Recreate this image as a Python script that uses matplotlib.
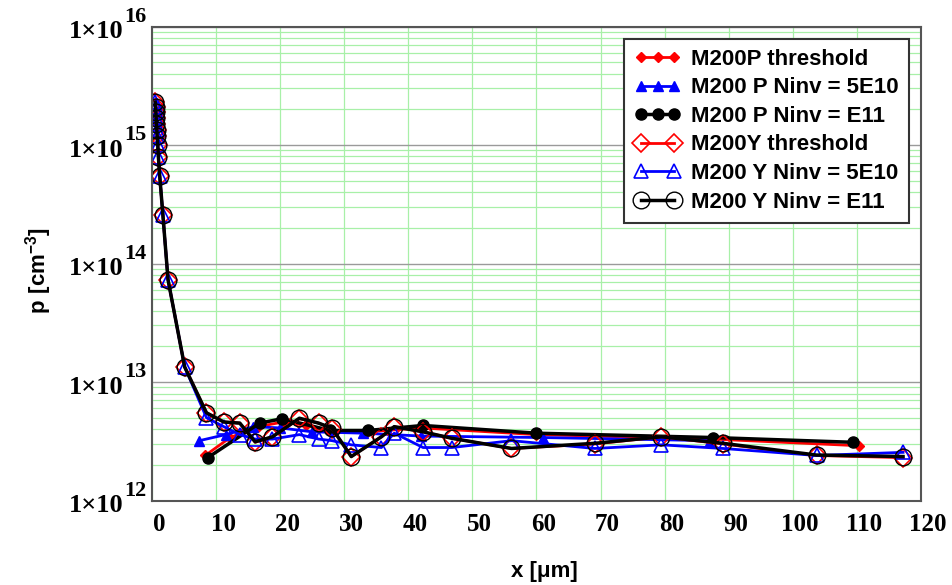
import numpy as np
import matplotlib
matplotlib.use('Agg')
import matplotlib.pyplot as plt
import matplotlib.transforms as mtransforms
from matplotlib.legend_handler import HandlerLine2D

plt.rcParams['mathtext.fontset'] = 'custom'
plt.rcParams['mathtext.sf'] = 'Liberation Sans:bold'
plt.rcParams['mathtext.rm'] = 'Liberation Sans:bold'

# depth positions [um] of the Y samples (surface peak + bulk)
y_x = [0.5, 0.55, 0.6, 0.65, 0.7, 0.75, 0.8, 0.9, 1.0, 1.2, 1.7, 2.5, 5.1,
       8.5, 11.2, 13.7, 16.1, 18.8, 23.0, 26.0, 28.1, 31.1, 35.8, 37.8,
       42.3, 46.8, 56.1, 69.1, 79.5, 89.1, 103.7, 117.2]

y_thr = [2.3e15, 2.1e15, 1.9e15, 1.7e15, 1.5e15, 1.35e15, 1.2e15, 1.0e15,
         7.9e14, 5.5e14, 2.57e14, 7.3e13, 1.34e13,
         5.5e12, 4.6e12, 4.5e12, 3.1e12, 3.45e12, 4.9e12, 4.5e12, 4.05e12,
         2.35e12, 3.45e12, 4.2e12, 3.8e12, 3.35e12, 2.75e12, 3.0e12,
         3.45e12, 3.0e12, 2.4e12, 2.3e12]

y_5e10 = [2.3e15, 2.1e15, 1.9e15, 1.7e15, 1.5e15, 1.35e15, 1.2e15, 1.0e15,
          7.9e14, 5.5e14, 2.57e14, 7.3e13, 1.34e13,
          5.0e12, 4.2e12, 3.6e12, 3.3e12, 3.3e12, 3.6e12, 3.3e12, 3.2e12,
          2.95e12, 2.8e12, 3.7e12, 2.8e12, 2.8e12, 3.2e12, 2.75e12,
          2.95e12, 2.75e12, 2.4e12, 2.55e12]

y_e11 = [2.3e15, 2.1e15, 1.9e15, 1.7e15, 1.5e15, 1.35e15, 1.2e15, 1.0e15,
         7.9e14, 5.5e14, 2.57e14, 7.3e13, 1.34e13,
         5.5e12, 4.6e12, 4.5e12, 3.13e12, 3.45e12, 4.95e12, 4.5e12, 4.07e12,
         2.35e12, 3.45e12, 4.2e12, 3.8e12, 3.35e12, 2.75e12, 3.04e12,
         3.45e12, 3.04e12, 2.42e12, 2.35e12]

# P samples
p_thr_x = [8.3, 12.2, 16.5, 20.5, 24.0, 28.0, 33.5, 42.0, 60.0, 87.5, 110.3]
p_thr = [2.4e12, 3.4e12, 4.2e12, 4.6e12, 4.3e12, 3.8e12, 3.8e12, 4.1e12,
         3.6e12, 3.3e12, 2.9e12]

p_5e10_x = [7.4, 11.5, 15.8, 20.0, 25.0, 33.0, 42.0, 61.0, 87.0]
p_5e10 = [3.2e12, 3.6e12, 4.2e12, 4.1e12, 3.8e12, 3.7e12, 3.5e12, 3.4e12,
          3.2e12]

p_e11_x = [8.7, 16.8, 20.3, 27.8, 33.7, 42.3, 60.0, 87.6, 109.4]
p_e11 = [2.3e12, 4.5e12, 4.9e12, 3.9e12, 3.9e12, 4.3e12, 3.7e12, 3.4e12,
         3.1e12]

decades = [12, 13, 14, 15, 16]
x_ticks = list(range(0, 121, 10))

fig = plt.figure(figsize=(9.53, 5.85), dpi=100)
ax = fig.add_axes([0.1595, 0.1444, 0.8069, 0.8103])

l1, = ax.plot(p_thr_x, p_thr, color='red', lw=2, marker='D', ms=5,
              label='M200P threshold')
l2, = ax.plot(p_5e10_x, p_5e10, color='blue', lw=2, marker='^', ms=7,
              label='M200 P Ninv = 5E10')
l3, = ax.plot(p_e11_x, p_e11, color='black', lw=2.5, marker='o', ms=8,
              label='M200 P Ninv = E11')
l4, = ax.plot(y_x, y_thr, color='red', lw=2, marker='D', ms=9, mfc='none',
              mew=1.2, label='M200Y threshold')
l5, = ax.plot(y_x, y_5e10, color='blue', lw=2, marker='^', ms=10, mfc='none',
              mew=1.2, label='M200 Y Ninv = 5E10')
l6, = ax.plot(y_x, y_e11, color='black', lw=2.5, marker='o', ms=12, mfc='none',
              mew=1.0, label='M200 Y Ninv = E11')

ax.set_yscale('log')
ax.set_ylim(1e12, 1e16)
ax.set_xlim(0, 120)
ax.set_xticks(x_ticks)
ax.set_yticks([10.0 ** d for d in decades])
ax.set_yticklabels([])

ax.set_axisbelow(True)
ax.grid(True, which='major', axis='y', color='#9a9a9a', lw=1)
ax.grid(True, which='minor', axis='y', color='#a8f0a8', lw=0.9)
ax.grid(True, which='major', axis='x', color='#a8f0a8', lw=0.9)
ax.tick_params(which='both', length=0)
ax.tick_params(axis='x', pad=9)
for lab in ax.get_xticklabels():
    lab.set_fontfamily('Liberation Serif')
    lab.set_fontweight('bold')
    lab.set_fontsize(18)
    lab.set_transform(lab.get_transform() +
                      mtransforms.ScaledTranslation(0.07, 0, fig.dpi_scale_trans))

for sp in ax.spines.values():
    sp.set_color('#555555')
    sp.set_linewidth(1.5)

# y tick labels of the form 1x10^n
for d in decades:
    ax.annotate('1\u00d710', xy=(0, 10.0 ** d), xycoords=('axes fraction', 'data'),
                xytext=(-29, -5), textcoords='offset pixels', ha='right',
                va='center', fontfamily='Liberation Serif', fontweight='bold',
                fontsize=19)
    ax.annotate(str(d), xy=(0, 10.0 ** d), xycoords=('axes fraction', 'data'),
                xytext=(-28, 0), textcoords='offset pixels', ha='left',
                va='bottom', fontfamily='Liberation Serif', fontweight='bold',
                fontsize=16)

ax.set_ylabel(r'$\mathsf{p\ [cm^{-3}]}$', fontsize=16)
ax.yaxis.set_label_coords(-0.128, 0.486)
ax.set_xlabel('x [\u03bcm]', fontfamily='Liberation Sans', fontweight='bold',
              fontsize=16)
ax.xaxis.set_label_coords(0.51, -0.128)

leg = ax.legend(loc='upper right', numpoints=3,
                prop={'family': 'Liberation Sans', 'weight': 'bold', 'size': 16},
                fancybox=False, framealpha=1, edgecolor='#333333',
                borderaxespad=0.55, handlelength=2.1, handletextpad=0.45,
                labelspacing=0.34, borderpad=0.45,
                handler_map={l4: HandlerLine2D(numpoints=2),
                             l5: HandlerLine2D(numpoints=2),
                             l6: HandlerLine2D(numpoints=2)})
leg.get_frame().set_linewidth(1.5)

fig.savefig('out.png', dpi=100)
